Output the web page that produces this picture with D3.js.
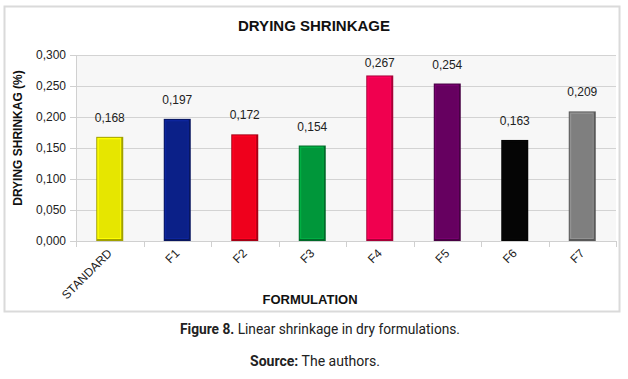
<!DOCTYPE html>
<html><head><meta charset="utf-8">
<script src="https://cdn.jsdelivr.net/npm/d3@7"></script>
<style>body{margin:0;background:#fff}svg{display:block}</style>
</head><body><svg id="c" width="628" height="379"></svg>
<script>
const categories = ["STANDARD","F1","F2","F3","F4","F5","F6","F7"];
const values = [0.168,0.197,0.172,0.154,0.267,0.254,0.163,0.209];
const colors = ["#e6e600","#0b2088","#ef001c","#00973a","#f0004f","#660060","#050505","#7f7f7f"];
const yTicks = [0,0.05,0.1,0.15,0.2,0.25,0.3];
const title = "DRYING SHRINKAGE";
const yTitle = "DRYING SHRINKAG (%)";
const xTitle = "FORMULATION";

const FONT = "'Liberation Sans', Arial, Helvetica, sans-serif";
const svg = d3.select("#c");
const fmt = v => d3.format(".3f")(v).replace(".", ",");
const m = {l:76, r:616, t:55, b:241};

svg.append("rect").attr("x",4.5).attr("y",6.5).attr("width",615).attr("height",305)
  .attr("fill","#fff").attr("stroke","#dadada").attr("stroke-width",2);

const x = d3.scaleBand().domain(categories).range([m.l,m.r]).paddingInner(0.6).paddingOuter(0.3);
const xb = d3.scaleBand().domain(categories).range([m.l,m.r]);
const y = d3.scaleLinear().domain([0,0.3]).range([m.b,m.t]);

svg.append("rect").attr("x",m.l).attr("y",m.t).attr("width",m.r-m.l).attr("height",m.b-m.t).attr("fill","#f7f7f7");

// grid
svg.append("g").selectAll("line").data(yTicks.slice(1)).join("line")
  .attr("x1",m.l).attr("x2",m.r).attr("y1",d=>Math.round(y(d))+0.5).attr("y2",d=>Math.round(y(d))+0.5)
  .attr("stroke","#d3d3d3");

// y axis
const ya = svg.append("g").attr("transform",`translate(${m.l},0)`)
  .call(d3.axisLeft(y).tickValues(yTicks).tickFormat(fmt).tickSize(6).tickPadding(4));
ya.select(".domain").attr("stroke","#d0d0d0");
ya.selectAll(".tick line").attr("stroke","#d0d0d0");
ya.selectAll("text").style("font-family",FONT).attr("font-size",12).attr("fill","#222");

// x axis
const xa = svg.append("g").attr("transform",`translate(0,${m.b})`)
  .call(d3.axisBottom(xb).tickSize(0).tickFormat(""));
xa.select(".domain").attr("stroke","#d0d0d0");
svg.append("g").selectAll("line").data(d3.range(categories.length+1)).join("line")
  .attr("x1",i=>Math.round(m.l+i*xb.step())+0.5).attr("x2",i=>Math.round(m.l+i*xb.step())+0.5)
  .attr("y1",m.b).attr("y2",m.b+6).attr("stroke","#d0d0d0");

// bars
const g = svg.append("g");
categories.forEach((c,i)=>{
  const col = d3.color(colors[i]);
  const x0 = x(c), w = x.bandwidth(), y0 = y(values[i]), h = y(0)-y(values[i]);
  g.append("rect").attr("x",x0).attr("y",y0).attr("width",w).attr("height",h)
    .attr("fill",col.darker(1));
  g.append("rect").attr("x",x0+1).attr("y",y0+1).attr("width",w-3).attr("height",h-3)
    .attr("fill",col.brighter(0.4));
  g.append("rect").attr("x",x0+2.5).attr("y",y0+2.5).attr("width",w-5.5).attr("height",h-5.5)
    .attr("fill",col);
});

// value labels
svg.append("g").selectAll("text").data(values).join("text")
  .attr("x",(d,i)=>x(categories[i])+x.bandwidth()/2)
  .attr("y",d=>Math.max(y(d)-15, 67))
  .attr("text-anchor","middle").style("font-family",FONT)
  .attr("font-size",12).attr("fill","#222").text(fmt);

// x labels
svg.append("g").selectAll("text").data(categories).join("text")
  .attr("transform",d=>`translate(${xb(d)+xb.bandwidth()/2+3},${m.b+13}) rotate(-45)`)
  .attr("text-anchor","end").style("font-family",FONT)
  .attr("font-size",12).attr("fill","#222").text(d=>d);

// titles
svg.append("text").attr("x",314).attr("y",31).attr("text-anchor","middle")
  .style("font-family",FONT).attr("font-weight","bold").attr("font-size",15).attr("fill","#111").text(title);
svg.append("text").attr("transform",`translate(22,${(m.t+m.b)/2-10}) rotate(-90)`).attr("text-anchor","middle")
  .style("font-family",FONT).attr("font-weight","bold").attr("font-size",12).attr("fill","#111").text(yTitle);
svg.append("text").attr("x",310).attr("y",304).attr("text-anchor","middle")
  .style("font-family",FONT).attr("font-weight","bold").attr("font-size",13).attr("fill","#111").text(xTitle);

// caption
const cap = svg.append("text").attr("x",180).attr("y",334).attr("textLength",280).attr("lengthAdjust","spacingAndGlyphs")
  .style("font-family","Roboto, sans-serif").attr("font-size",15).attr("fill","#222");
cap.append("tspan").attr("font-weight","bold").text("Figure 8.");
cap.append("tspan").text(" Linear shrinkage in dry formulations.");
const src = svg.append("text").attr("x",250).attr("y",366).attr("textLength",130).attr("lengthAdjust","spacingAndGlyphs")
  .style("font-family","Roboto, sans-serif").attr("font-size",15).attr("fill","#222");
src.append("tspan").attr("font-weight","bold").text("Source:");
src.append("tspan").text(" The authors.");
</script></body></html>
